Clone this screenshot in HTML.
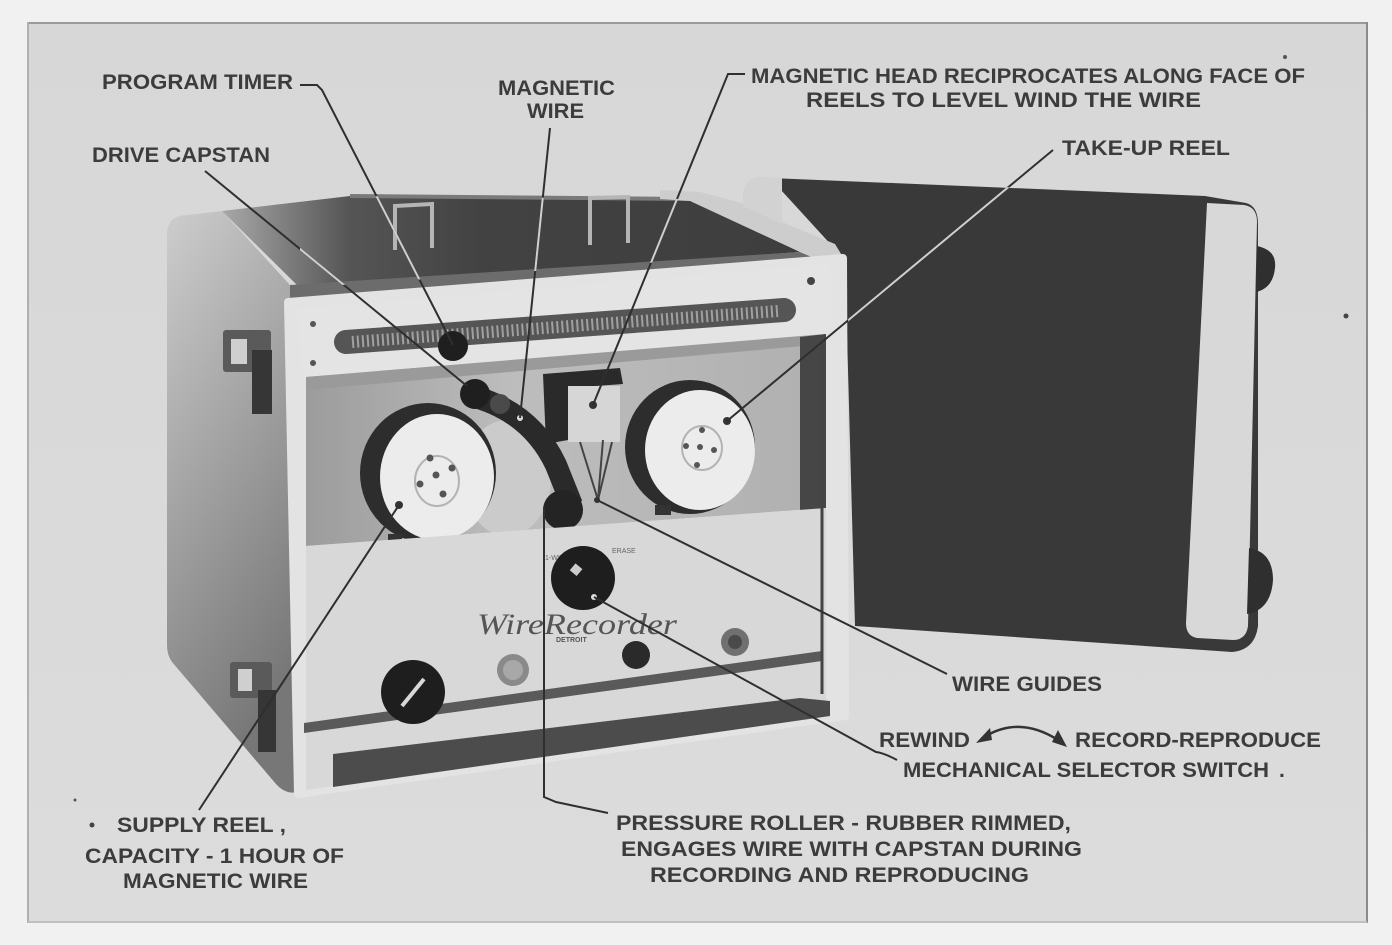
<!DOCTYPE html>
<html>
<head>
<meta charset="utf-8">
<style>
html,body{margin:0;padding:0;background:#efefef;}
svg{display:block;}
.lb{font-family:"Liberation Sans",sans-serif;font-weight:bold;font-size:21px;fill:#3c3c3c;}
</style>
</head>
<body>
<svg width="1392" height="945" viewBox="0 0 1392 945" xmlns="http://www.w3.org/2000/svg">
<defs>
  <linearGradient id="side" x1="0" y1="0" x2="0.35" y2="1">
    <stop offset="0" stop-color="#cdcdcd"/>
    <stop offset="0.45" stop-color="#a6a6a6"/>
    <stop offset="1" stop-color="#777"/>
  </linearGradient>
  <linearGradient id="topg" x1="0" y1="0" x2="1" y2="0">
    <stop offset="0" stop-color="#a8a8a8"/>
    <stop offset="0.22" stop-color="#555"/>
    <stop offset="0.45" stop-color="#424242"/>
    <stop offset="1" stop-color="#3e3e3e"/>
  </linearGradient>
  <linearGradient id="comp" x1="0" y1="0" x2="1" y2="0">
    <stop offset="0" stop-color="#9c9c9c"/>
    <stop offset="0.4" stop-color="#bdbdbd"/>
    <stop offset="1" stop-color="#b0b0b0"/>
  </linearGradient>
  <linearGradient id="bg" x1="0" y1="0" x2="0" y2="1">
    <stop offset="0" stop-color="#d7d7d7"/>
    <stop offset="1" stop-color="#dcdcdc"/>
  </linearGradient>
  <clipPath id="darkclip">
    <polygon points="300,204 350,196 690,199 800,252 300,288"/>
    <polygon points="845,180 1205,196 1205,640 855,626"/>
  </clipPath>
</defs>

<!-- page & frame -->
<rect width="1392" height="945" fill="#f1f1f1"/>
<rect x="28" y="22" width="1339" height="901" fill="url(#bg)"/>
<line x1="28" y1="23" x2="1367" y2="23" stroke="#9a9a9a" stroke-width="2"/>
<line x1="28" y1="22" x2="28" y2="923" stroke="#b0b0b0" stroke-width="2"/>
<line x1="1367" y1="22" x2="1367" y2="923" stroke="#8a8a8a" stroke-width="2"/>
<line x1="28" y1="922" x2="1367" y2="922" stroke="#c0c0c0" stroke-width="2"/>

<!-- open lid (right) -->
<path d="M770,178 L1205,196 L1246,203 Q1258,206 1258,224 L1258,626 Q1255,650 1232,652 L855,626 L845,260 Z" fill="#393939"/>
<path d="M1207,203 L1244,205 Q1257,207 1257,222 L1248,626 Q1246,640 1233,640 L1197,638 Q1186,636 1186,623 Z" fill="#d8d8d8"/>
<path d="M1257,246 Q1277,250 1275,268 Q1273,288 1256,292 Z" fill="#2f2f2f"/>
<path d="M1249,548 Q1273,552 1273,580 Q1271,610 1247,614 Z" fill="#2f2f2f"/>

<!-- left side panel -->
<path d="M167,235 Q167,215 187,215 L222,211 L290,285 L290,302 L298,792 Q286,795 276,784 L172,662 Q167,655 167,645 Z" fill="url(#side)"/>
<!-- latches -->
<rect x="223" y="330" width="48" height="42" rx="3" fill="#5a5a5a"/>
<rect x="231" y="339" width="16" height="25" fill="#cfcfcf"/>
<rect x="252" y="350" width="20" height="64" fill="#363636"/>
<rect x="230" y="662" width="42" height="36" rx="3" fill="#5a5a5a"/>
<rect x="238" y="669" width="14" height="22" fill="#cfcfcf"/>
<rect x="258" y="690" width="18" height="62" fill="#363636"/>

<!-- top surface -->
<polygon points="222,211 350,196 690,199 800,252 300,288" fill="url(#topg)"/>
<path d="M350,196 L690,199" stroke="#7a7a7a" stroke-width="4"/>
<polygon points="290,285 800,252 830,264 297,309 290,305" fill="#6c6c6c"/>
<path d="M395,250 L395,206 L432,204 L432,248" fill="none" stroke="#b5b5b5" stroke-width="4"/>
<path d="M590,245 L590,198 L628,197 L628,243" fill="none" stroke="#b5b5b5" stroke-width="4"/>
<!-- machine top-right light edge & lid corner -->
<polygon points="660,190 700,192 745,204 782,222 835,244 846,262 828,264 800,252 690,201 660,199" fill="#cdcdcd"/>
<path d="M743,206 L743,193 Q745,177 762,177 L782,178 L782,224 Z" fill="#d2d2d2"/>

<!-- front face -->
<polygon points="288,302 843,258 845,716 298,794" fill="#e3e3e3" stroke="#e3e3e3" stroke-width="8" stroke-linejoin="round"/>

<!-- timer panel -->
<polygon points="297,309 830,264 832,333 303,377" fill="#e4e4e4"/>
<line x1="346" y1="342" x2="784" y2="310" stroke="#555" stroke-width="24" stroke-linecap="round"/>
<line x1="352" y1="342" x2="778" y2="311" stroke="#a0a0a0" stroke-width="12" stroke-dasharray="2 3"/>
<circle cx="453" cy="346" r="15" fill="#1f1f1f"/>
<circle cx="313" cy="324" r="3" fill="#555"/>
<circle cx="313" cy="363" r="3" fill="#555"/>
<circle cx="811" cy="281" r="4" fill="#444"/>

<!-- reel compartment -->
<polygon points="306,377 826,334 826,508 306,546" fill="url(#comp)"/>
<polygon points="306,377 826,334 826,344 306,390" fill="#9a9a9a"/>
<polygon points="800,337 826,334 826,508 800,511" fill="#464646"/>

<!-- supply reel -->
<ellipse cx="507" cy="478" rx="44" ry="58" fill="#cbcbcb"/>
<ellipse cx="428" cy="473" rx="68" ry="70" fill="#2d2d2d"/>
<ellipse cx="437" cy="477" rx="57" ry="63" fill="#ececec"/>
<ellipse cx="437" cy="481" rx="22" ry="25" fill="none" stroke="#b3b3b3" stroke-width="2"/>
<circle cx="430" cy="458" r="3.5" fill="#555"/>
<circle cx="452" cy="468" r="3.5" fill="#555"/>
<circle cx="436" cy="475" r="3.5" fill="#555"/>
<circle cx="420" cy="484" r="3.5" fill="#555"/>
<circle cx="443" cy="494" r="3.5" fill="#555"/>
<circle cx="399" cy="505" r="4" fill="#333"/>
<rect x="388" y="534" width="14" height="10" fill="#333"/>

<!-- take-up reel -->
<ellipse cx="690" cy="447" rx="65" ry="67" fill="#2d2d2d"/>
<ellipse cx="700" cy="450" rx="55" ry="60" fill="#ececec"/>
<ellipse cx="702" cy="448" rx="20" ry="22" fill="none" stroke="#b3b3b3" stroke-width="2"/>
<circle cx="702" cy="430" r="3" fill="#555"/>
<circle cx="686" cy="446" r="3" fill="#555"/>
<circle cx="700" cy="447" r="3" fill="#555"/>
<circle cx="714" cy="450" r="3" fill="#555"/>
<circle cx="697" cy="465" r="3" fill="#555"/>
<circle cx="727" cy="421" r="4" fill="#333"/>
<rect x="655" y="505" width="16" height="10" fill="#333"/>

<!-- magnetic head -->
<path d="M543,374 L620,368 L623,384 L568,388 L568,440 L546,444 Z" fill="#2a2a2a"/>
<rect x="568" y="386" width="52" height="56" fill="#d6d6d6"/>
<circle cx="593" cy="405" r="4" fill="#333"/>
<path d="M580,442 L598,500 L612,442" fill="none" stroke="#444" stroke-width="2"/>
<line x1="603" y1="440" x2="598" y2="500" stroke="#444" stroke-width="2"/>

<!-- arm & capstan & roller -->
<path d="M468,395 Q530,410 556,465 L572,505" fill="none" stroke="#2a2a2a" stroke-width="22"/>
<circle cx="475" cy="394" r="15" fill="#1f1f1f"/>
<circle cx="500" cy="404" r="10" fill="#4a4a4a"/>
<circle cx="563" cy="510" r="20" fill="#242424"/>
<circle cx="597" cy="500" r="3" fill="#333"/>
<circle cx="520" cy="418" r="3" fill="#ddd"/>

<!-- lower panel -->
<polygon points="306,546 826,508 826,712 306,790" fill="#d8d8d8"/>
<text x="545" y="560" font-family="Liberation Sans,sans-serif" font-size="7" fill="#666">1-WIRE</text>
<text x="612" y="553" font-family="Liberation Sans,sans-serif" font-size="7" fill="#666">ERASE</text>
<circle cx="583" cy="578" r="32" fill="#1e1e1e"/>
<rect x="572" y="565" width="9" height="9" fill="#ccc" transform="rotate(40 576 569)"/>
<circle cx="594" cy="597" r="3" fill="#ddd"/>
<text x="477" y="634" font-family="Liberation Serif,serif" font-style="italic" font-size="30" fill="#555" textLength="200" lengthAdjust="spacingAndGlyphs">WireRecorder</text>
<text x="556" y="642" font-family="Liberation Sans,sans-serif" font-size="7" font-weight="bold" fill="#555">DETROIT</text>
<circle cx="513" cy="670" r="16" fill="#8a8a8a"/>
<circle cx="513" cy="670" r="10" fill="#a8a8a8"/>
<circle cx="636" cy="655" r="14" fill="#2a2a2a"/>
<circle cx="735" cy="642" r="14" fill="#707070"/>
<circle cx="735" cy="642" r="7" fill="#4a4a4a"/>
<polygon points="304,723 822,651 822,661 304,733" fill="#5a5a5a"/>
<circle cx="413" cy="692" r="32" fill="#1e1e1e"/>
<line x1="402" y1="706" x2="424" y2="679" stroke="#d8d8d8" stroke-width="4"/>
<polygon points="333,754 800,698 830,701 830,716 333,787" fill="#4c4c4c"/>
<line x1="822" y1="340" x2="822" y2="694" stroke="#444" stroke-width="3"/>

<!-- leader lines -->
<g fill="none" stroke="#2f2f2f" stroke-width="2">
  <path d="M300,85 L317,85 L322,90 L453,345"/>
  <path d="M205,171 L467,386"/>
  <path d="M550,128 L520,418"/>
  <path d="M745,74 L728,74 L593,405"/>
  <path d="M1053,150 L727,421"/>
  <path d="M947,674 L597,500"/>
  <path d="M897,760 Q884,753 876,752 L594,597"/>
  <path d="M544,507 L544,797 L556,802 L608,813"/>
  <path d="M199,810 L399,505"/>
</g>
<g fill="none" stroke="#d0d0d0" stroke-width="2" clip-path="url(#darkclip)">
  <path d="M322,90 L453,345"/>
  <path d="M205,171 L467,386"/>
  <path d="M550,128 L520,418"/>
  <path d="M728,74 L593,405"/>
  <path d="M1053,150 L727,421"/>
</g>

<!-- rewind / record arrow -->
<path d="M986,736 Q1020,716 1058,740" fill="none" stroke="#333" stroke-width="2.5"/>
<polygon points="976,743 990,728 992,740" fill="#333"/>
<polygon points="1067,747 1052,742 1058,730" fill="#333"/>

<!-- specks -->
<circle cx="92" cy="825" r="2.5" fill="#444"/>
<circle cx="1285" cy="57" r="2" fill="#555"/>
<circle cx="1346" cy="316" r="2.5" fill="#444"/>
<circle cx="75" cy="800" r="1.5" fill="#555"/>

<!-- labels -->
<text class="lb" x="102" y="89" textLength="191" lengthAdjust="spacingAndGlyphs">PROGRAM TIMER</text>
<text class="lb" x="92" y="162" textLength="178" lengthAdjust="spacingAndGlyphs">DRIVE CAPSTAN</text>
<text class="lb" x="498" y="95" textLength="117" lengthAdjust="spacingAndGlyphs">MAGNETIC</text>
<text class="lb" x="527" y="118" textLength="57" lengthAdjust="spacingAndGlyphs">WIRE</text>
<text class="lb" x="751" y="83" textLength="554" lengthAdjust="spacingAndGlyphs">MAGNETIC HEAD RECIPROCATES ALONG FACE OF</text>
<text class="lb" x="806" y="107" textLength="395" lengthAdjust="spacingAndGlyphs">REELS TO LEVEL WIND THE WIRE</text>
<text class="lb" x="1062" y="155" textLength="168" lengthAdjust="spacingAndGlyphs">TAKE-UP REEL</text>
<text class="lb" x="952" y="691" textLength="150" lengthAdjust="spacingAndGlyphs">WIRE GUIDES</text>
<text class="lb" x="879" y="747" textLength="91" lengthAdjust="spacingAndGlyphs">REWIND</text>
<text class="lb" x="1075" y="747" textLength="246" lengthAdjust="spacingAndGlyphs">RECORD-REPRODUCE</text>
<text class="lb" x="903" y="777" textLength="366" lengthAdjust="spacingAndGlyphs">MECHANICAL SELECTOR SWITCH</text>
<text class="lb" x="1279" y="777">.</text>
<text class="lb" x="616" y="830" textLength="455" lengthAdjust="spacingAndGlyphs">PRESSURE ROLLER - RUBBER RIMMED,</text>
<text class="lb" x="621" y="856" textLength="461" lengthAdjust="spacingAndGlyphs">ENGAGES WIRE WITH CAPSTAN DURING</text>
<text class="lb" x="650" y="882" textLength="379" lengthAdjust="spacingAndGlyphs">RECORDING  AND  REPRODUCING</text>
<text class="lb" x="117" y="832" textLength="169" lengthAdjust="spacingAndGlyphs">SUPPLY REEL ,</text>
<text class="lb" x="85" y="863" textLength="259" lengthAdjust="spacingAndGlyphs">CAPACITY - 1 HOUR OF</text>
<text class="lb" x="123" y="888" textLength="185" lengthAdjust="spacingAndGlyphs">MAGNETIC WIRE</text>
</svg>
</body>
</html>
